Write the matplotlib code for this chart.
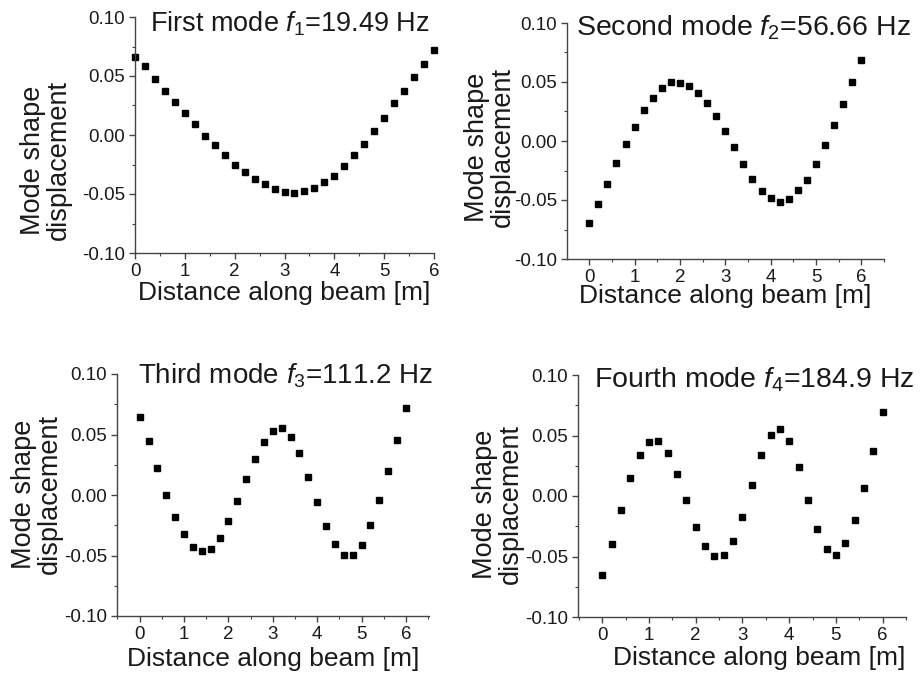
import matplotlib
matplotlib.use("Agg")
import matplotlib.pyplot as plt
from matplotlib.ticker import MultipleLocator, FormatStrFormatter

plt.rcParams['font.family'] = ['Liberation Sans', 'DejaVu Sans']
plt.rcParams['mathtext.fontset'] = 'custom'
plt.rcParams['mathtext.rm'] = 'Liberation Sans'
plt.rcParams['mathtext.it'] = 'Liberation Sans:italic'

x = [round(0.2 * i, 1) for i in range(31)]

mode1 = [0.0662, 0.0586, 0.0476, 0.0377, 0.0276, 0.0186, 0.0093, -0.0006, -0.0087, -0.0166,
         -0.0251, -0.0315, -0.0372, -0.0414, -0.0454, -0.0479, -0.0490, -0.0476, -0.0451, -0.0400,
         -0.0346, -0.0262, -0.0172, -0.0076, 0.0034, 0.0144, 0.0268, 0.0369, 0.0493, 0.0603, 0.0721]
mode2 = [-0.0697, -0.0535, -0.0365, -0.0187, -0.0025, 0.0119, 0.0266, 0.0365, 0.0450, 0.0501,
         0.0493, 0.0465, 0.0408, 0.0320, 0.0210, 0.0088, -0.0054, -0.0195, -0.0323, -0.0422,
         -0.0487, -0.0513, -0.0493, -0.0419, -0.0329, -0.0198, -0.0034, 0.0133, 0.0314, 0.0496, 0.0683]
mode3 = [0.0645, 0.0449, 0.0220, 0.0000, -0.0179, -0.0320, -0.0433, -0.0466, -0.0449, -0.0358,
         -0.0218, -0.0052, 0.0129, 0.0300, 0.0441, 0.0532, 0.0554, 0.0482, 0.0344, 0.0146,
         -0.0058, -0.0256, -0.0408, -0.0496, -0.0496, -0.0413, -0.0245, -0.0044, 0.0198, 0.0455, 0.0719]
mode4 = [-0.0650, -0.0397, -0.0113, 0.0152, 0.0342, 0.0444, 0.0457, 0.0358, 0.0185, -0.0036,
         -0.0259, -0.0416, -0.0499, -0.0490, -0.0369, -0.0171, 0.0091, 0.0339, 0.0504, 0.0556,
         0.0457, 0.0240, -0.0033, -0.0273, -0.0441, -0.0488, -0.0391, -0.0198, 0.0063, 0.0369, 0.0694]

titles = [r"First mode $f_1$=19.49 Hz", r"Second mode $f_2$=56.66 Hz",
          r"Third mode $f_3$=111.2 Hz", r"Fourth mode $f_4$=184.9 Hz"]
xlabel = "Distance along beam [m]"
ylabel = "Mode shape\ndisplacement"
yticks = [-0.10, -0.05, 0.00, 0.05, 0.10]
xticks = [0, 1, 2, 3, 4, 5, 6]

W, H = 922, 677
fig = plt.figure(figsize=(W / 100, H / 100), dpi=100)

# pixel boxes: left, right, top, bottom
boxes = [(135, 434, 17, 253), (567, 884, 23, 259), (117, 429, 374, 616), (578, 906, 375, 617)]
xlims = [(0, 6), (-0.49, 6.5), (-0.51, 6.52), (-0.52, 6.5)]
title_pos = [(150, 32, 19.5), (576, 35, 20.5), (138, 383, 20), (594, 388, 20.5)]
ylab_pos = [(-0.211, 0.394), (-0.161, 0.475), (-0.173, 0.504), (-0.165, 0.467)]
xlab_pos = [(0.5, -0.12), (0.5, -0.108), (0.5, -0.13), (0.552, -0.12)]
data = [mode1, mode2, mode3, mode4]
txtc = '#1a1a1a'
spc = '#444444'

for i in range(4):
    l, r, t, b = boxes[i]
    ax = fig.add_axes([l / W, 1 - b / H, (r - l) / W, (b - t) / H])
    ax.plot(x, data[i], linestyle='none', marker='s', markersize=4.6,
            color='black', clip_on=False)
    ax.set_xlim(*xlims[i])
    ax.set_ylim(-0.10, 0.10)
    ax.set_xticks(xticks)
    ax.set_yticks(yticks)
    ax.xaxis.set_minor_locator(MultipleLocator(0.5))
    ax.yaxis.set_minor_locator(MultipleLocator(0.025))
    ax.yaxis.set_major_formatter(FormatStrFormatter('%.2f'))
    for s in ['top', 'right']:
        ax.spines[s].set_visible(False)
    for s in ['left', 'bottom']:
        ax.spines[s].set_color(spc)
        ax.spines[s].set_linewidth(1.0)
    ax.tick_params(which='major', direction='out', length=4, width=1, color=spc,
                   labelsize=13.5, labelcolor=txtc, pad=3)
    ax.tick_params(which='minor', direction='out', length=2.5, width=0.8, color=spc)
    ax.set_xlabel(xlabel, fontsize=19, color=txtc)
    ax.set_ylabel(ylabel, fontsize=19.5, color=txtc, linespacing=1.0)
    ax.yaxis.set_label_coords(*ylab_pos[i])
    ax.xaxis.set_label_coords(*xlab_pos[i])
    tx, ty, fs = title_pos[i]
    fig.text(tx / W, 1 - ty / H, titles[i], fontsize=fs, color=txtc,
             ha='left', va='baseline')

fig.savefig("out.png", dpi=100)
